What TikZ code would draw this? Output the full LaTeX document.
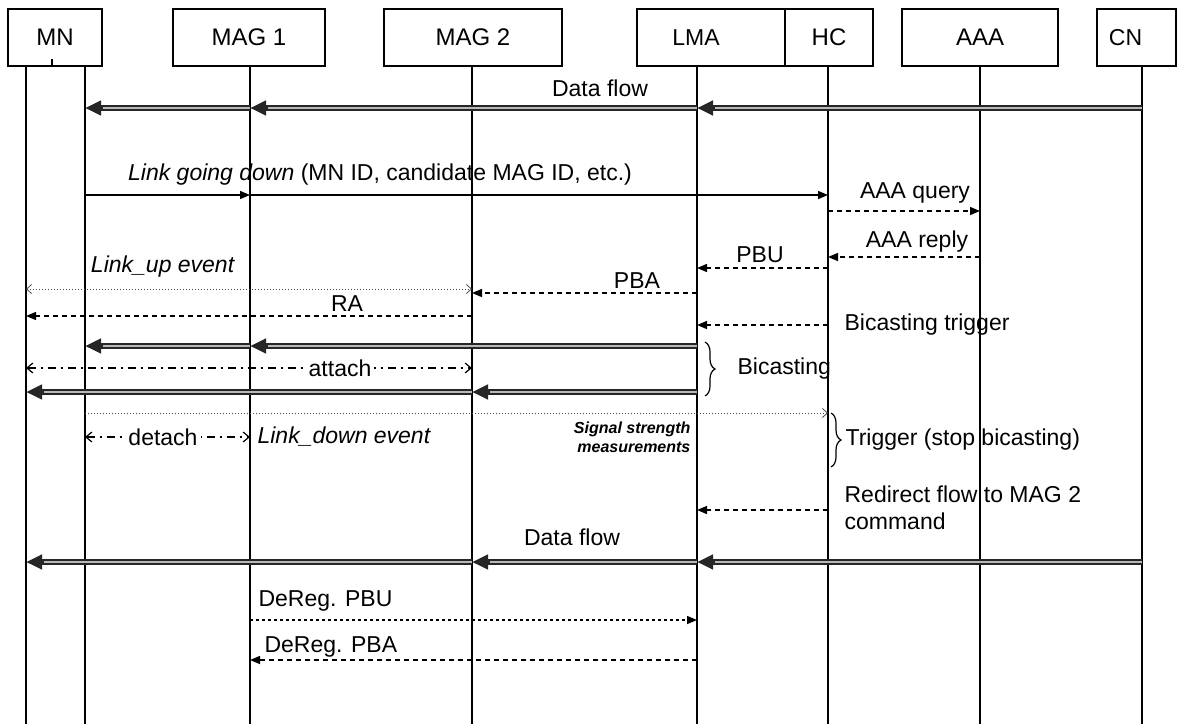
\documentclass[tikz,border=0pt]{standalone}
\usepackage{fontspec}
\setmainfont{Liberation Sans}
\usetikzlibrary{
  arrows.meta, % For arrow tips
  decorations.pathreplacing % For the braces
}

\begin{document}
\begin{tikzpicture}[
    x=0.5pt, y=-0.5pt, % pixel grid, y runs downwards
    line width=0.6pt,
    font=\fontsize{11.5pt}{13.5pt}\selectfont,
    head/.style={draw, line width=0.6pt, minimum height=28.5pt, inner sep=0pt,
      font=\fontsize{12pt}{14pt}\selectfont},
    life/.style={line width=0.6pt},
    flow/.style={line width=2.8pt, black!85, -{Triangle[length=8pt,width=7pt]},
      postaction={draw=gray!55, line width=0.8pt, -, shorten >=9pt}}, % data flow
    msg/.style={line width=0.7pt, -{Triangle[length=5pt,width=4pt]}}, % plain message
    sig/.style={msg, dash pattern=on 2.5pt off 2pt}, % signalling
    deregsig/.style={msg, dash pattern=on 1.5pt off 1.5pt},
    evt/.style={line width=0.4pt, black!70, dash pattern=on 0.6pt off 0.9pt,
      {Straight Barb[length=2.5pt,width=4.5pt]}-{Straight Barb[length=2.5pt,width=4.5pt]}},
    meas/.style={evt, -{Straight Barb[length=2.5pt,width=4.5pt]}},
    link/.style={line width=0.6pt, dash pattern=on 4pt off 2.5pt on 1pt off 2.5pt,
      {Straight Barb[length=3pt,width=5pt]}-{Straight Barb[length=3pt,width=5pt]}},
    brc/.style={decorate, decoration={brace, amplitude=5pt}, line width=0.6pt},
    lbl/.style={inner sep=1pt},
    lblbg/.style={lbl, fill=white, inner sep=1.5pt},
  ]

  \useasboundingbox (0,0) rectangle (1182,724);

  % Kopfzeile
  \node[head, minimum width=47pt] (mn) at (55,37.5) {MN};
  \node[head, minimum width=76pt] (mag1) at (249,37.5) {MAG 1};
  \node[head, minimum width=89pt] (mag2) at (473,37.5) {MAG 2};
  \node[head, minimum width=74pt, label={[xshift=-7.5pt]center:LMA}] (lma) at (711,37.5) {};
  \node[head, minimum width=44pt] (hc) at (829,37.5) {HC};
  \node[head, minimum width=78pt] (aaa) at (980,37.5) {AAA};
  \node[head, minimum width=39.5pt, label={[xshift=-5.5pt]center:CN}] (cn) at (1136.5,37.5) {};
  \draw ([xshift=-1.5pt]mn.south) -- ++(0,-8);

  % Lebenslinien
  \foreach \n/\x in {mnA/26, mnB/85, mag1/250, mag2/472, lma/697, hc/828, aaa/980, cn/1142}
  {
    \coordinate (l-\n) at (\x,66);
    \draw[life] (l-\n) -- (\x,724);
  }

  % Zeilen der Nachrichten
  \foreach \r/\y in {df1/108, lgd/195, aq/211, ar/257, pbu/268, lup/289, pba/293, ra/316,
    bt/325, bc1/346, att/368, bc2/392, sig/413, det/437, rd/510, df2/562, dpbu/620, dpba/660}
  \coordinate (\r) at (0,\y);

  % Datenfluss (vorher)
  \foreach \a/\b in {cn/lma, lma/mag1, mag1/mnB}
  \draw[flow] (l-\a |- df1) -- (l-\b |- df1);
  \node[lbl] (t-df1) at (600,88) {Data flow};

  % Link going down
  \draw[msg] (l-mnB |- lgd) -- (l-mag1 |- lgd);
  \draw[msg] (l-mag1 |- lgd) -- (l-hc |- lgd);
  \node[lbl] (t-lgd) at (380,175) {\textit{Link going down} (MN ID, candidate MAG ID, etc.)};

  % AAA
  \draw[sig] (l-hc |- aq) -- (l-aaa |- aq);
  \node[lbl] (t-aq) at (915,193) {AAA query};
  \draw[sig] (l-aaa |- ar) -- (l-hc |- ar);
  \node[lbl] (t-ar) at (917,242) {AAA reply};

  % PBU / PBA
  \draw[sig] (l-hc |- pbu) -- (l-lma |- pbu);
  \node[lbl] (t-pbu) at (760,255) {PBU};
  \draw[evt] (l-mnA |- lup) -- (l-mag2 |- lup);
  \node[lbl] (t-lup) at (163,267) {\textit{Link\_up event}};
  \draw[sig] (l-lma |- pba) -- (l-mag2 |- pba);
  \node[lbl] (t-pba) at (637,281) {PBA};
  \draw[sig] (l-mag2 |- ra) -- (l-mnA |- ra);
  \node[lbl] (t-ra) at (347,304) {RA};

  % Bicasting
  \draw[sig] (l-hc |- bt) -- (l-lma |- bt);
  \node[lbl, anchor=west] (t-bt) at (842,325) {Bicasting trigger};
  \foreach \a/\b in {lma/mag1, mag1/mnB}
  \draw[flow] (l-\a |- bc1) -- (l-\b |- bc1);
  \draw[link] (l-mnA |- att) -- (l-mag2 |- att);
  \node[lblbg] (t-att) at (340,368) {attach};
  \foreach \a/\b in {lma/mag2, mag2/mnA}
  \draw[flow] (l-\a |- bc2) -- (l-\b |- bc2);
  \draw[brc] (705,342) -- (705,396);
  \node[lbl, anchor=west] (t-bc) at (735,369) {Bicasting};

  % Messung und Trigger
  \draw[meas] (l-mnB |- sig) -- (l-hc |- sig);
  \node[lbl, anchor=east, align=right, font=\fontsize{8pt}{9.5pt}\selectfont\bfseries\itshape]
    (t-sig) at (693,437) {Signal strength\\measurements};
  \draw[link] (l-mnB |- det) -- (l-mag1 |- det);
  \node[lblbg] (t-det) at (163,437) {detach};
  \node[lbl, anchor=west] (t-ld) at (255,437) {\textit{Link\_down event}};
  \draw[brc] (831,413) -- (831,467);
  \node[lbl, anchor=west] (t-tr) at (843,440) {Trigger (stop bicasting)};

  % Umleitung
  \draw[sig] (l-hc |- rd) -- (l-lma |- rd);
  \node[lbl, anchor=west, align=left] (t-rd) at (842,508) {Redirect flow to MAG 2\\command};

  % Datenfluss (nachher)
  \foreach \a/\b in {cn/lma, lma/mag2, mag2/mnA}
  \draw[flow] (l-\a |- df2) -- (l-\b |- df2);
  \node[lbl] (t-df2) at (572,537) {Data flow};

  % Deregistrierung
  \draw[deregsig] (l-mag1 |- dpbu) -- (l-lma |- dpbu);
  \node[lbl, anchor=west] (t-dpbu) at (256,601) {DeReg. PBU};
  \draw[sig] (l-lma |- dpba) -- (l-mag1 |- dpba);
  \node[lbl, anchor=west] (t-dpba) at (262,647) {DeReg. PBA};
\end{tikzpicture}
\end{document}
